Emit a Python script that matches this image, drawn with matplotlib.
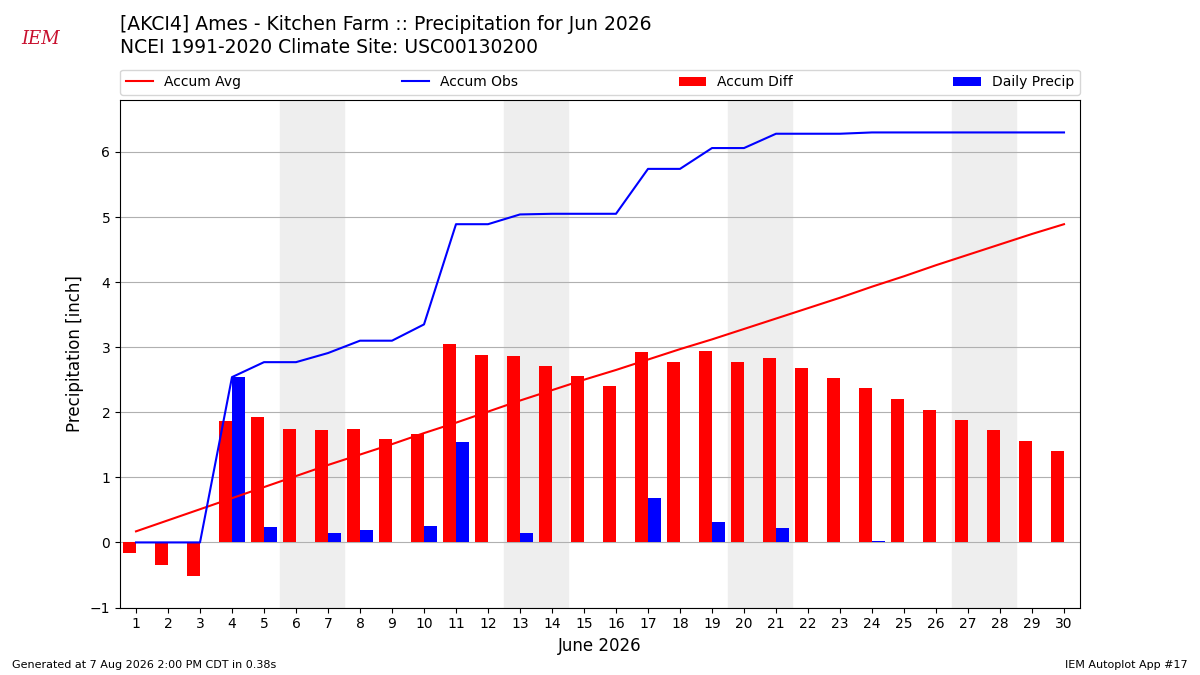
import numpy as np
import matplotlib
matplotlib.use("Agg")
import matplotlib.pyplot as plt

days = np.arange(1, 31)
daily = [0, 0, 0, 2.54, 0.23, 0, 0.14, 0.19, 0, 0.25, 1.54, 0, 0.15, 0.01, 0,
         0, 0.69, 0, 0.32, 0, 0.22, 0, 0, 0.02, 0, 0, 0, 0, 0, 0]
accum_avg = [0.17, 0.34, 0.51, 0.68, 0.85, 1.02, 1.19, 1.35, 1.51, 1.68,
             1.84, 2.01, 2.18, 2.34, 2.50, 2.65, 2.81, 2.97, 3.12, 3.28,
             3.44, 3.60, 3.76, 3.93, 4.09, 4.26, 4.42, 4.58, 4.74, 4.89]
accum_obs = np.cumsum(daily)
accum_diff = accum_obs - np.array(accum_avg)
weekends = [(6, 7), (13, 14), (20, 21), (27, 28)]

fig = plt.figure(figsize=(12, 6.75), dpi=100)
ax = fig.add_axes([0.1, 0.1, 0.8, 0.752])

for a, b in weekends:
    ax.axvspan(a - 0.5, b + 0.5, color="#eeeeee", zorder=0)

ax.plot(days, accum_avg, color="r", label="Accum Avg", zorder=3)
ax.plot(days, accum_obs, color="b", label="Accum Obs", zorder=3)
ax.bar(days - 0.2, accum_diff, width=0.4, color="r", label="Accum Diff", zorder=2)
ax.bar(days + 0.2, daily, width=0.4, color="b", label="Daily Precip", zorder=2)

ax.set_xlim(0.5, 30.5)
ax.set_ylim(-1, 6.8)
ax.set_xticks(days)
ax.grid(axis="y", zorder=1)
ax.set_axisbelow(True)
ax.set_ylabel("Precipitation [inch]", fontsize=12)
ax.set_xlabel("June 2026", fontsize=12)
ax.legend(loc="lower left", bbox_to_anchor=(0, 1.01, 1, 0.05), ncol=4,
          mode="expand", fontsize=10, borderaxespad=0)

fig.text(0.1, 0.978, "[AKCI4] Ames - Kitchen Farm :: Precipitation for Jun 2026",
         fontsize=13.5, va="top")
fig.text(0.1, 0.943, "NCEI 1991-2020 Climate Site: USC00130200",
         fontsize=13.5, va="top")
fig.text(0.01, 0.01, "Generated at 7 Aug 2026 2:00 PM CDT in 0.38s", fontsize=8)
fig.text(0.99, 0.01, "IEM Autoplot App #17", fontsize=8, ha="right")
fig.text(0.018, 0.935, "IEM", fontsize=13, color="#c8102e", style="italic",
         family="serif")

fig.savefig("out.png")
